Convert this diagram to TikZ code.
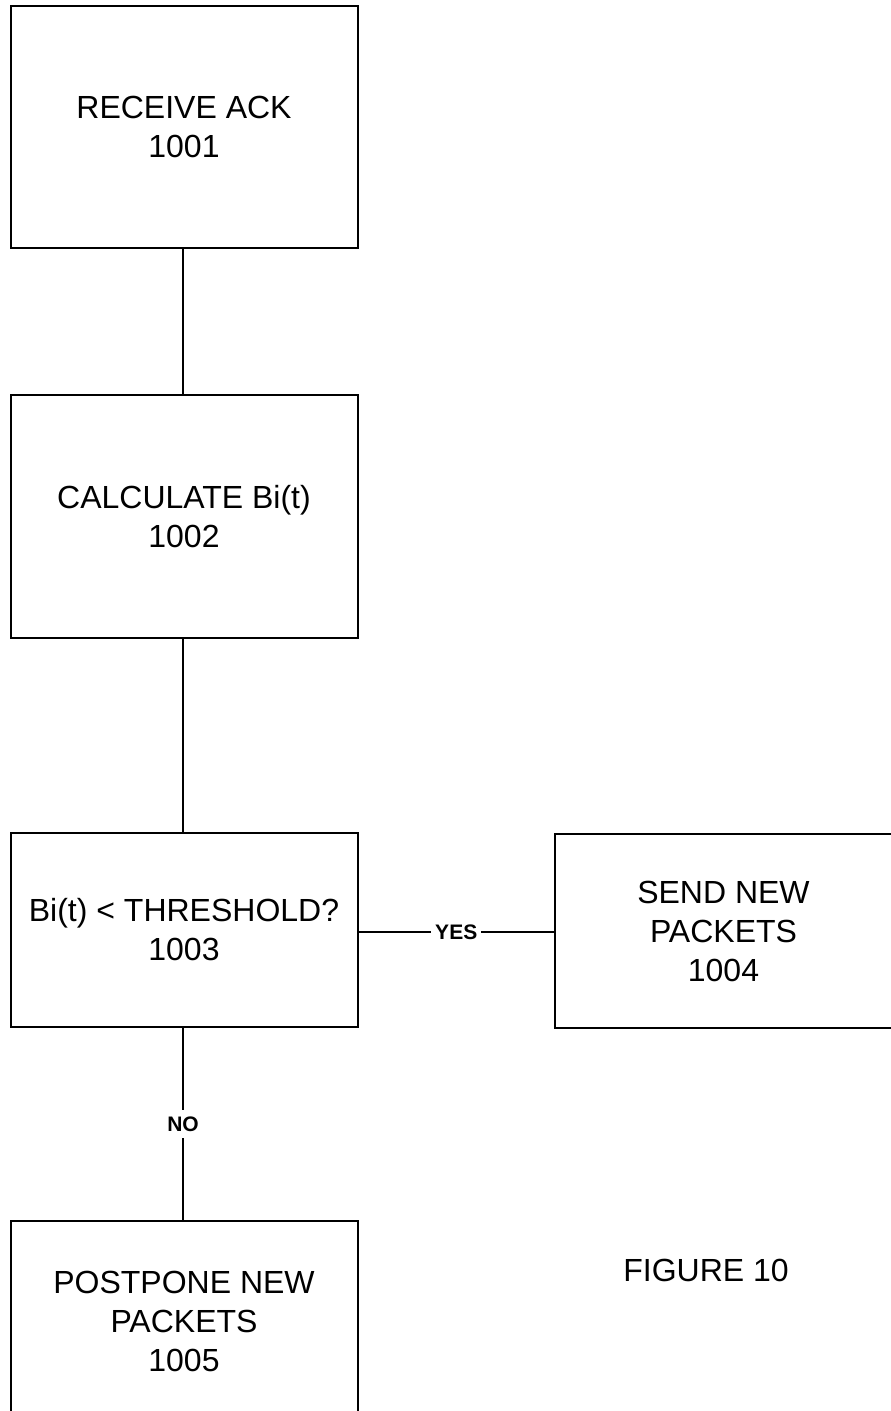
\documentclass[tikz,border=0pt]{standalone}
\usepackage{fontspec}
\setmainfont{Liberation Sans}
\begin{document}
\begin{tikzpicture}[x=1pt,y=-1pt,
  stepbox/.style={draw=black,line width=2pt,rectangle,align=center,
    font=\fontsize{32}{39}\selectfont,minimum width=347pt,inner sep=0pt},
  link/.style={draw=black,line width=1.3pt},
  branch/.style={fill=white,inner sep=4pt,font=\bfseries\fontsize{21}{24}\selectfont}]
  \useasboundingbox (0,0) rectangle (891,1411);
  \clip (0,0) rectangle (891,1411);

  % process steps
  \node[stepbox,minimum height=242pt] (ack) at (184,127) {RECEIVE ACK\\1001};
  \node[stepbox,minimum height=243pt] (calc) at (184,516.5) {CALCULATE Bi(t)\\1002};
  \node[stepbox,minimum height=194pt] (test) at (184,930) {Bi(t) < THRESHOLD?\\1003};
  \node[stepbox,minimum height=194pt,minimum width=337pt] (send) at (723.5,931) {SEND NEW\\PACKETS\\1004};
  \node[stepbox,minimum height=200pt] (wait) at (184,1321) {POSTPONE NEW\\PACKETS\\1005};

  % caption
  \node[font=\fontsize{32}{39}\selectfont,inner sep=0pt] (cap) at (706,1270) {FIGURE 10};

  % connectors
  \draw[link] (ack.south -| 183,0) -- (calc.north -| 183,0);
  \draw[link] (calc.south -| 183,0) -- (test.north -| 183,0);
  \draw[link] (test.east |- 0,932) -- node[branch] {YES} (send.west |- 0,932);
  \draw[link] (test.south -| 183,0) -- node[branch,inner ysep=7pt] {NO} (wait.north -| 183,0);
\end{tikzpicture}
\end{document}
